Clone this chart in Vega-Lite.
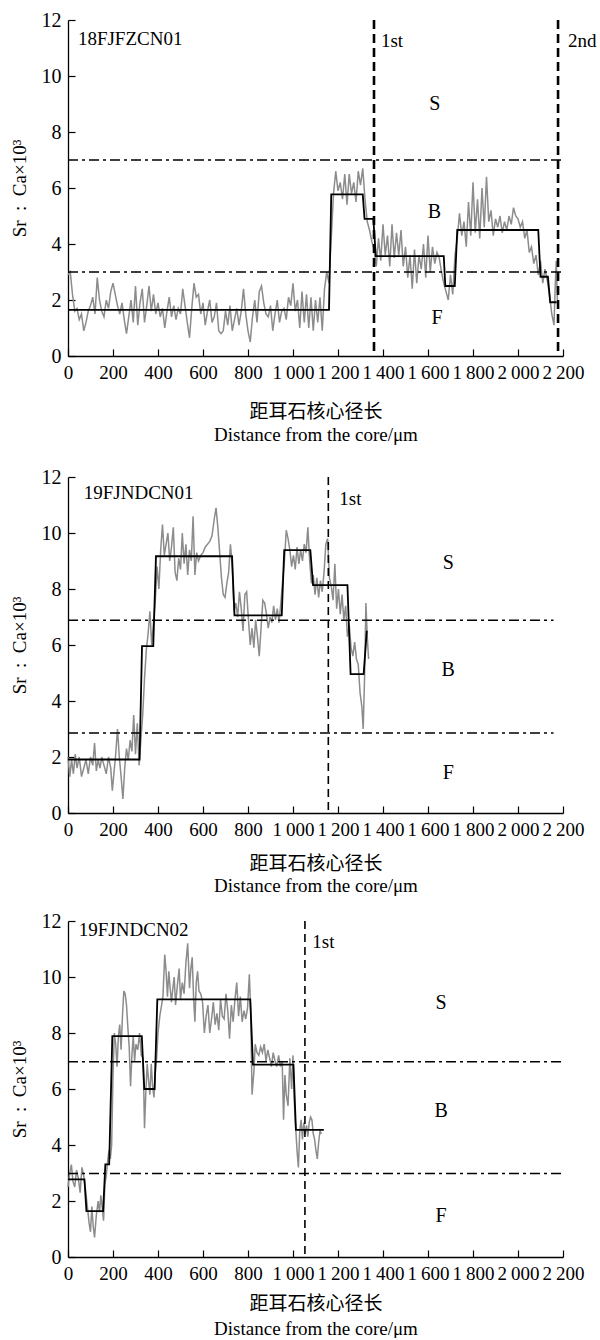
{
  "$schema": "https://vega.github.io/schema/vega-lite/v6.json",
  "background": "white",
  "padding": {"left": 10, "top": 10, "right": 5, "bottom": 0},
  "config": {
    "view": {"stroke": null},
    "font": "Liberation Serif",
    "axis": {
      "grid": false, "domainColor": "black", "domainWidth": 1.3, "tickColor": "black", "tickWidth": 1.2,
      "labelColor": "black", "labelFont": "Liberation Serif", "labelFontSize": 20,
      "titleFont": "Liberation Serif, Noto Sans CJK SC", "titleFontSize": 19, "titleFontWeight": "normal", "titleColor": "black",
      "labelOverlap": false, "labelFlush": false, "tickSize": -7, "labelPadding": 14
    },
    "axisX": {"labelFontSize": 19}
  },
  "datasets": {
    "p1_gray": [
      {"d":0,"v":2.9},{"d":10,"v":3.0},{"d":20,"v":2.2},{"d":30,"v":1.6},{"d":40,"v":1.7},{"d":50,"v":1.3},{"d":60,"v":1.5},{"d":70,"v":0.9},{"d":80,"v":1.2},{"d":90,"v":1.6},
      {"d":100,"v":1.8},{"d":110,"v":2.1},{"d":120,"v":1.5},{"d":130,"v":2.8},{"d":140,"v":2.0},{"d":150,"v":1.6},{"d":160,"v":1.4},{"d":170,"v":2.0},{"d":180,"v":1.7},{"d":190,"v":2.3},
      {"d":200,"v":2.6},{"d":210,"v":2.2},{"d":220,"v":1.8},{"d":230,"v":1.5},{"d":240,"v":1.9},{"d":250,"v":1.3},{"d":260,"v":0.8},{"d":270,"v":1.4},{"d":280,"v":2.0},{"d":290,"v":1.2},
      {"d":300,"v":2.5},{"d":310,"v":1.1},{"d":320,"v":1.9},{"d":330,"v":2.4},{"d":340,"v":1.2},{"d":350,"v":1.8},{"d":360,"v":2.5},{"d":370,"v":1.6},{"d":380,"v":2.2},{"d":390,"v":1.5},
      {"d":400,"v":1.9},{"d":410,"v":1.4},{"d":420,"v":1.7},{"d":430,"v":1.0},{"d":440,"v":1.6},{"d":450,"v":2.1},{"d":460,"v":1.4},{"d":470,"v":1.8},{"d":480,"v":1.3},{"d":490,"v":1.7},
      {"d":500,"v":1.5},{"d":510,"v":2.4},{"d":520,"v":1.8},{"d":530,"v":1.2},{"d":540,"v":0.65},{"d":550,"v":1.7},{"d":560,"v":2.6},{"d":570,"v":2.1},{"d":580,"v":2.2},{"d":590,"v":1.5},
      {"d":600,"v":1.9},{"d":610,"v":1.1},{"d":620,"v":1.6},{"d":630,"v":2.0},{"d":640,"v":1.2},{"d":650,"v":1.4},{"d":660,"v":1.9},{"d":670,"v":0.9},{"d":680,"v":0.8},{"d":690,"v":0.9},
      {"d":700,"v":1.6},{"d":710,"v":1.1},{"d":720,"v":1.8},{"d":730,"v":0.9},{"d":740,"v":1.3},{"d":750,"v":1.7},{"d":760,"v":1.1},{"d":770,"v":1.6},{"d":780,"v":2.4},{"d":790,"v":1.5},
      {"d":800,"v":0.9},{"d":810,"v":0.5},{"d":820,"v":1.4},{"d":830,"v":2.0},{"d":840,"v":1.2},{"d":850,"v":2.3},{"d":860,"v":2.5},{"d":870,"v":1.9},{"d":880,"v":1.5},{"d":890,"v":1.4},
      {"d":900,"v":1.8},{"d":910,"v":0.9},{"d":920,"v":1.5},{"d":930,"v":2.0},{"d":940,"v":1.2},{"d":950,"v":1.6},{"d":960,"v":1.7},{"d":970,"v":1.3},{"d":980,"v":2.1},{"d":990,"v":1.8},
      {"d":1000,"v":2.6},{"d":1010,"v":1.6},{"d":1020,"v":2.0},{"d":1030,"v":1.0},{"d":1040,"v":2.3},{"d":1050,"v":1.2},{"d":1060,"v":2.2},{"d":1070,"v":1.0},{"d":1080,"v":2.1},{"d":1090,"v":0.9},
      {"d":1100,"v":2.0},{"d":1110,"v":1.2},{"d":1120,"v":2.1},{"d":1130,"v":0.9},{"d":1140,"v":2.4},{"d":1150,"v":3.0},{"d":1160,"v":2.6},{"d":1170,"v":4.2},{"d":1180,"v":5.8},{"d":1190,"v":6.6},
      {"d":1200,"v":5.9},{"d":1210,"v":6.2},{"d":1220,"v":5.6},{"d":1230,"v":6.5},{"d":1240,"v":5.4},{"d":1250,"v":6.5},{"d":1260,"v":5.8},{"d":1270,"v":6.2},{"d":1280,"v":5.5},{"d":1290,"v":6.6},
      {"d":1300,"v":6.1},{"d":1310,"v":6.7},{"d":1320,"v":5.6},{"d":1330,"v":4.8},{"d":1340,"v":4.5},{"d":1350,"v":4.1},{"d":1360,"v":3.8},{"d":1370,"v":3.2},{"d":1380,"v":4.2},{"d":1390,"v":3.4},
      {"d":1400,"v":4.7},{"d":1410,"v":3.6},{"d":1420,"v":4.3},{"d":1430,"v":3.2},{"d":1440,"v":4.7},{"d":1450,"v":3.5},{"d":1460,"v":4.4},{"d":1470,"v":3.6},{"d":1480,"v":4.5},{"d":1490,"v":3.2},
      {"d":1500,"v":3.9},{"d":1510,"v":2.8},{"d":1520,"v":3.6},{"d":1530,"v":2.4},{"d":1540,"v":3.8},{"d":1550,"v":2.6},{"d":1560,"v":3.6},{"d":1570,"v":3.1},{"d":1580,"v":4.0},{"d":1590,"v":2.8},
      {"d":1600,"v":4.3},{"d":1610,"v":3.0},{"d":1620,"v":3.9},{"d":1630,"v":3.3},{"d":1640,"v":3.7},{"d":1650,"v":3.5},{"d":1660,"v":3.0},{"d":1670,"v":2.6},{"d":1680,"v":2.3},{"d":1690,"v":2.0},
      {"d":1700,"v":2.9},{"d":1710,"v":2.2},{"d":1720,"v":3.6},{"d":1730,"v":4.2},{"d":1740,"v":5.1},{"d":1750,"v":4.3},{"d":1760,"v":4.8},{"d":1770,"v":3.9},{"d":1780,"v":5.5},{"d":1790,"v":4.3},
      {"d":1800,"v":6.2},{"d":1810,"v":4.4},{"d":1820,"v":5.6},{"d":1830,"v":4.2},{"d":1840,"v":6.0},{"d":1850,"v":4.6},{"d":1860,"v":6.4},{"d":1870,"v":4.8},{"d":1880,"v":5.2},{"d":1890,"v":4.3},
      {"d":1900,"v":4.9},{"d":1910,"v":4.6},{"d":1920,"v":5.0},{"d":1930,"v":4.4},{"d":1940,"v":4.8},{"d":1950,"v":4.5},{"d":1960,"v":5.0},{"d":1970,"v":4.7},{"d":1980,"v":5.3},{"d":1990,"v":5.0},
      {"d":2000,"v":4.9},{"d":2010,"v":4.6},{"d":2020,"v":4.8},{"d":2030,"v":4.2},{"d":2040,"v":4.5},{"d":2050,"v":3.7},{"d":2060,"v":3.9},{"d":2070,"v":3.3},{"d":2080,"v":3.6},{"d":2090,"v":2.9},
      {"d":2100,"v":3.4},{"d":2110,"v":2.6},{"d":2120,"v":3.1},{"d":2130,"v":2.7},{"d":2140,"v":2.2},{"d":2150,"v":1.5},{"d":2160,"v":1.1},{"d":2165,"v":2.4},{"d":2170,"v":3.4},{"d":2175,"v":2.0}
    ],
    "p1_step": [
      {"d":0,"v":1.65},{"d":1160,"v":1.65},{"d":1170,"v":5.77},{"d":1310,"v":5.77},{"d":1318,"v":4.9},{"d":1357,"v":4.9},{"d":1368,"v":3.57},{"d":1670,"v":3.57},
      {"d":1677,"v":2.5},{"d":1719,"v":2.5},{"d":1730,"v":4.5},{"d":2090,"v":4.5},{"d":2100,"v":2.83},{"d":2133,"v":2.83},{"d":2143,"v":1.92},{"d":2172,"v":1.92}
    ],
    "p1_h": [{"d":0,"d2":2200,"v":7.0},{"d":0,"d2":2200,"v":3.0}],
    "p1_v": [{"d":1360},{"d":2178}],
    "p1_lab": [{"d":44,"v":11.32,"t":"18FJFZCN01"},{"d":1391,"v":11.25,"t":"1st"},{"d":2222,"v":11.25,"t":"2nd"}],
    "p1_zone": [{"d":1630,"v":9.0,"t":"S"},{"d":1628,"v":5.14,"t":"B"},{"d":1640,"v":1.36,"t":"F"}],
    "p2_gray": [
      {"d":0,"v":2.0},{"d":8,"v":1.3},{"d":16,"v":1.9},{"d":24,"v":1.4},{"d":32,"v":2.1},{"d":40,"v":1.6},{"d":50,"v":2.0},{"d":60,"v":1.3},{"d":70,"v":1.6},{"d":80,"v":1.9},
      {"d":90,"v":1.4},{"d":100,"v":2.0},{"d":110,"v":1.7},{"d":118,"v":2.5},{"d":126,"v":1.5},{"d":134,"v":1.9},{"d":142,"v":1.6},{"d":150,"v":2.0},{"d":160,"v":1.7},{"d":170,"v":1.4},
      {"d":180,"v":2.0},{"d":190,"v":1.6},{"d":197,"v":0.8},{"d":205,"v":1.5},{"d":212,"v":2.1},{"d":220,"v":3.0},{"d":228,"v":2.0},{"d":236,"v":1.3},{"d":244,"v":0.5},{"d":252,"v":1.6},
      {"d":260,"v":2.3},{"d":268,"v":1.9},{"d":276,"v":2.6},{"d":284,"v":2.2},{"d":292,"v":3.5},{"d":300,"v":2.1},{"d":308,"v":3.2},{"d":316,"v":1.7},{"d":324,"v":2.6},{"d":332,"v":3.5},
      {"d":340,"v":4.8},{"d":348,"v":5.8},{"d":356,"v":6.4},{"d":364,"v":7.2},{"d":372,"v":6.0},{"d":380,"v":6.8},{"d":388,"v":7.6},{"d":396,"v":8.8},{"d":404,"v":8.0},{"d":412,"v":9.4},
      {"d":420,"v":10.3},{"d":428,"v":9.2},{"d":436,"v":9.6},{"d":444,"v":10.0},{"d":452,"v":9.0},{"d":460,"v":9.5},{"d":468,"v":10.2},{"d":476,"v":8.6},{"d":484,"v":8.3},{"d":492,"v":9.1},
      {"d":500,"v":8.7},{"d":508,"v":10.0},{"d":516,"v":8.9},{"d":524,"v":9.6},{"d":532,"v":8.5},{"d":540,"v":9.4},{"d":548,"v":9.0},{"d":556,"v":10.6},{"d":564,"v":8.5},{"d":572,"v":9.3},
      {"d":580,"v":9.0},{"d":590,"v":9.2},{"d":600,"v":9.3},{"d":610,"v":9.5},{"d":620,"v":9.6},{"d":630,"v":9.7},{"d":640,"v":9.9},{"d":650,"v":10.5},{"d":658,"v":10.9},{"d":666,"v":10.2},
      {"d":674,"v":9.3},{"d":682,"v":8.4},{"d":690,"v":7.8},{"d":698,"v":7.7},{"d":706,"v":8.2},{"d":714,"v":8.6},{"d":722,"v":9.6},{"d":730,"v":8.8},{"d":738,"v":7.2},{"d":746,"v":7.5},
      {"d":754,"v":7.0},{"d":762,"v":7.9},{"d":770,"v":7.3},{"d":778,"v":6.5},{"d":786,"v":7.8},{"d":794,"v":7.9},{"d":802,"v":6.9},{"d":810,"v":6.0},{"d":818,"v":6.6},{"d":826,"v":5.9},
      {"d":834,"v":6.9},{"d":842,"v":6.3},{"d":850,"v":5.6},{"d":858,"v":6.6},{"d":866,"v":7.6},{"d":874,"v":7.5},{"d":882,"v":7.1},{"d":890,"v":6.6},{"d":898,"v":7.0},{"d":906,"v":6.8},
      {"d":914,"v":7.4},{"d":922,"v":6.9},{"d":930,"v":7.3},{"d":938,"v":6.8},{"d":946,"v":7.5},{"d":954,"v":8.3},{"d":962,"v":9.0},{"d":970,"v":10.1},{"d":978,"v":9.8},{"d":986,"v":9.4},
      {"d":994,"v":8.8},{"d":1002,"v":9.2},{"d":1010,"v":8.7},{"d":1018,"v":9.5},{"d":1026,"v":8.9},{"d":1034,"v":9.4},{"d":1042,"v":9.0},{"d":1050,"v":9.6},{"d":1058,"v":9.3},{"d":1066,"v":10.2},
      {"d":1074,"v":9.0},{"d":1082,"v":8.2},{"d":1090,"v":8.5},{"d":1098,"v":7.8},{"d":1106,"v":8.4},{"d":1114,"v":7.7},{"d":1122,"v":8.3},{"d":1130,"v":7.9},{"d":1138,"v":8.6},{"d":1146,"v":9.6},
      {"d":1154,"v":9.8},{"d":1162,"v":8.4},{"d":1170,"v":8.1},{"d":1178,"v":7.6},{"d":1186,"v":8.9},{"d":1194,"v":7.3},{"d":1202,"v":8.0},{"d":1210,"v":7.1},{"d":1218,"v":7.8},{"d":1226,"v":6.9},
      {"d":1234,"v":7.4},{"d":1242,"v":6.3},{"d":1250,"v":6.7},{"d":1258,"v":5.9},{"d":1266,"v":5.6},{"d":1274,"v":6.1},{"d":1282,"v":5.5},{"d":1290,"v":5.3},{"d":1298,"v":4.3},{"d":1306,"v":3.8},
      {"d":1312,"v":3.0},{"d":1318,"v":4.8},{"d":1324,"v":7.5},{"d":1330,"v":6.3},{"d":1336,"v":5.5}
    ],
    "p2_step": [
      {"d":0,"v":1.91},{"d":318,"v":1.91},{"d":329,"v":5.96},{"d":379,"v":5.96},{"d":391,"v":9.17},{"d":729,"v":9.17},{"d":740,"v":7.06},{"d":950,"v":7.06},
      {"d":961,"v":9.39},{"d":1077,"v":9.39},{"d":1089,"v":8.14},{"d":1242,"v":8.14},{"d":1256,"v":4.96},{"d":1314,"v":4.96},{"d":1328,"v":6.51}
    ],
    "p2_h": [{"d":0,"d2":2158,"v":6.88},{"d":0,"d2":2158,"v":2.86}],
    "p2_v": [{"d":1157}],
    "p2_lab": [{"d":70,"v":11.42,"t":"19FJNDCN01"},{"d":1206,"v":11.2,"t":"1st"}],
    "p2_zone": [{"d":1690,"v":8.92,"t":"S"},{"d":1690,"v":5.1,"t":"B"},{"d":1690,"v":1.42,"t":"F"}],
    "p3_gray": [
      {"d":0,"v":2.5},{"d":8,"v":3.0},{"d":15,"v":3.3},{"d":22,"v":2.7},{"d":30,"v":2.5},{"d":38,"v":3.1},{"d":46,"v":2.8},{"d":54,"v":2.3},{"d":62,"v":3.2},{"d":70,"v":2.9},
      {"d":78,"v":2.4},{"d":86,"v":1.8},{"d":94,"v":1.2},{"d":100,"v":0.9},{"d":106,"v":1.8},{"d":112,"v":1.1},{"d":118,"v":0.7},{"d":126,"v":1.5},{"d":134,"v":2.0},{"d":140,"v":1.6},
      {"d":146,"v":2.2},{"d":152,"v":1.8},{"d":158,"v":1.3},{"d":164,"v":2.6},{"d":170,"v":2.9},{"d":176,"v":3.4},{"d":182,"v":3.8},{"d":188,"v":3.5},{"d":194,"v":4.0},{"d":200,"v":6.5},
      {"d":206,"v":8.0},{"d":212,"v":7.6},{"d":218,"v":6.8},{"d":224,"v":7.9},{"d":230,"v":8.3},{"d":236,"v":7.4},{"d":242,"v":8.6},{"d":248,"v":9.5},{"d":254,"v":9.4},{"d":260,"v":9.0},
      {"d":266,"v":8.2},{"d":272,"v":7.5},{"d":278,"v":6.1},{"d":284,"v":7.2},{"d":290,"v":7.9},{"d":296,"v":7.0},{"d":302,"v":7.6},{"d":310,"v":7.4},{"d":318,"v":8.0},{"d":326,"v":7.2},
      {"d":334,"v":7.1},{"d":340,"v":4.6},{"d":346,"v":5.9},{"d":352,"v":6.9},{"d":358,"v":6.3},{"d":364,"v":5.8},{"d":370,"v":6.9},{"d":376,"v":6.1},{"d":382,"v":5.7},{"d":388,"v":6.6},
      {"d":394,"v":7.1},{"d":400,"v":8.0},{"d":408,"v":8.6},{"d":416,"v":9.0},{"d":422,"v":9.3},{"d":430,"v":10.8},{"d":436,"v":10.2},{"d":442,"v":9.3},{"d":448,"v":10.2},{"d":454,"v":9.6},
      {"d":460,"v":9.1},{"d":466,"v":9.6},{"d":472,"v":10.0},{"d":478,"v":9.0},{"d":486,"v":9.7},{"d":494,"v":10.3},{"d":500,"v":9.2},{"d":508,"v":9.8},{"d":516,"v":9.4},{"d":524,"v":10.5},
      {"d":532,"v":11.2},{"d":540,"v":9.6},{"d":546,"v":10.3},{"d":552,"v":10.7},{"d":558,"v":9.3},{"d":564,"v":8.4},{"d":570,"v":9.8},{"d":576,"v":10.2},{"d":582,"v":9.5},{"d":590,"v":9.4},
      {"d":598,"v":9.1},{"d":606,"v":8.0},{"d":614,"v":8.6},{"d":622,"v":9.0},{"d":630,"v":8.0},{"d":638,"v":8.5},{"d":646,"v":9.1},{"d":654,"v":8.3},{"d":662,"v":8.7},{"d":670,"v":8.1},
      {"d":678,"v":9.2},{"d":686,"v":8.6},{"d":694,"v":8.5},{"d":702,"v":9.4},{"d":710,"v":8.8},{"d":718,"v":7.8},{"d":726,"v":9.0},{"d":734,"v":8.4},{"d":742,"v":9.2},{"d":750,"v":9.8},
      {"d":758,"v":8.6},{"d":766,"v":9.3},{"d":774,"v":8.4},{"d":782,"v":8.8},{"d":790,"v":8.5},{"d":798,"v":8.9},{"d":806,"v":10.1},{"d":812,"v":8.8},{"d":818,"v":5.8},{"d":826,"v":6.6},
      {"d":832,"v":7.6},{"d":840,"v":7.3},{"d":848,"v":7.2},{"d":856,"v":7.5},{"d":864,"v":7.3},{"d":872,"v":7.6},{"d":880,"v":7.0},{"d":888,"v":7.4},{"d":896,"v":7.1},{"d":904,"v":6.8},
      {"d":912,"v":7.3},{"d":920,"v":7.0},{"d":928,"v":6.8},{"d":936,"v":7.2},{"d":944,"v":6.8},{"d":952,"v":7.0},{"d":958,"v":4.9},{"d":964,"v":6.5},{"d":970,"v":5.8},{"d":978,"v":5.4},
      {"d":986,"v":7.1},{"d":994,"v":6.0},{"d":1000,"v":7.2},{"d":1006,"v":5.5},{"d":1012,"v":4.6},{"d":1018,"v":3.8},{"d":1024,"v":3.2},{"d":1030,"v":4.5},{"d":1036,"v":4.9},{"d":1042,"v":4.2},
      {"d":1048,"v":4.8},{"d":1054,"v":4.4},{"d":1060,"v":4.7},{"d":1066,"v":4.3},{"d":1072,"v":4.8},{"d":1078,"v":5.0},{"d":1084,"v":4.9},{"d":1090,"v":4.4},{"d":1096,"v":4.2},{"d":1102,"v":3.8},
      {"d":1108,"v":3.5},{"d":1114,"v":4.1},{"d":1120,"v":4.5},{"d":1126,"v":4.4}
    ],
    "p3_step": [
      {"d":0,"v":2.77},{"d":73,"v":2.77},{"d":82,"v":1.64},{"d":156,"v":1.64},{"d":166,"v":3.31},{"d":183,"v":3.31},{"d":197,"v":7.89},{"d":328,"v":7.89},
      {"d":339,"v":6.0},{"d":385,"v":6.0},{"d":397,"v":9.2},{"d":810,"v":9.2},{"d":822,"v":6.87},{"d":1002,"v":6.87},{"d":1013,"v":4.54},{"d":1137,"v":4.54}
    ],
    "p3_h": [{"d":0,"d2":2200,"v":6.97},{"d":0,"d2":2200,"v":2.98}],
    "p3_v": [{"d":1053}],
    "p3_lab": [{"d":48,"v":11.67,"t":"19FJNDCN02"},{"d":1086,"v":11.24,"t":"1st"}],
    "p3_zone": [{"d":1658,"v":9.06,"t":"S"},{"d":1658,"v":5.2,"t":"B"},{"d":1658,"v":1.45,"t":"F"}]
  },
  "spacing": 23,
  "vconcat": [
    {
      "width": 495, "height": 336,
      "layer": [
        {"data": {"name": "p1_gray"}, "mark": {"type": "line", "color": "#8c8c8c", "strokeWidth": 1.5},
         "encoding": {
           "x": {"field": "d", "type": "quantitative", "scale": {"domain": [0, 2200], "nice": false, "zero": false},
                 "axis": {"values": [0,200,400,600,800,1000,1200,1400,1600,1800,2000,2200], "title": ["距耳石核心径长", "Distance from the core/μm"], "titleLineHeight": 23, "titlePadding": 20,
                          "labelExpr": "datum.value >= 1000 ? replace(format(datum.value, ','), ',', '\u2009') : format(datum.value, 'd')"}},
           "y": {"field": "v", "type": "quantitative", "scale": {"domain": [0, 12], "nice": false},
                 "axis": {"values": [0,2,4,6,8,10,12], "title": "Sr\u2002:\u2002Ca×10³", "titlePadding": 12}}}},
        {"data": {"name": "p1_step"}, "mark": {"type": "line", "color": "black", "strokeWidth": 1.8},
         "encoding": {"x": {"field": "d", "type": "quantitative"}, "y": {"field": "v", "type": "quantitative"}}},
        {"data": {"name": "p1_h"}, "mark": {"type": "rule", "color": "black", "strokeWidth": 1.5, "strokeDash": [10, 4, 3, 4]},
         "encoding": {"x": {"field": "d", "type": "quantitative"}, "x2": {"field": "d2"}, "y": {"field": "v", "type": "quantitative"}}},
        {"data": {"name": "p1_v"}, "mark": {"type": "rule", "color": "black", "strokeWidth": 2.6, "strokeDash": [9, 5]},
         "encoding": {"x": {"field": "d", "type": "quantitative"}}},
        {"data": {"name": "p1_lab"}, "mark": {"type": "text", "align": "left", "baseline": "middle", "font": "Liberation Serif", "fontSize": 19, "color": "black"},
         "encoding": {"x": {"field": "d", "type": "quantitative"}, "y": {"field": "v", "type": "quantitative"}, "text": {"field": "t"}}},
        {"data": {"name": "p1_zone"}, "mark": {"type": "text", "align": "center", "baseline": "middle", "font": "Liberation Serif", "fontSize": 20, "color": "black"},
         "encoding": {"x": {"field": "d", "type": "quantitative"}, "y": {"field": "v", "type": "quantitative"}, "text": {"field": "t"}}}
      ]
    },
    {
      "spacing": 16,
      "vconcat": [
        {
          "width": 495, "height": 336,
          "layer": [
            {"data": {"name": "p2_gray"}, "mark": {"type": "line", "color": "#8c8c8c", "strokeWidth": 1.5},
             "encoding": {
               "x": {"field": "d", "type": "quantitative", "scale": {"domain": [0, 2200], "nice": false, "zero": false},
                     "axis": {"values": [0,200,400,600,800,1000,1200,1400,1600,1800,2000,2200], "title": ["距耳石核心径长", "Distance from the core/μm"], "titleLineHeight": 22, "titlePadding": 15,
                              "labelExpr": "datum.value >= 1000 ? replace(format(datum.value, ','), ',', '\u2009') : format(datum.value, 'd')"}},
               "y": {"field": "v", "type": "quantitative", "scale": {"domain": [0, 12], "nice": false},
                     "axis": {"values": [0,2,4,6,8,10,12], "title": "Sr\u2002:\u2002Ca×10³", "titlePadding": 12}}}},
            {"data": {"name": "p2_step"}, "mark": {"type": "line", "color": "black", "strokeWidth": 1.8},
             "encoding": {"x": {"field": "d", "type": "quantitative"}, "y": {"field": "v", "type": "quantitative"}}},
            {"data": {"name": "p2_h"}, "mark": {"type": "rule", "color": "black", "strokeWidth": 1.5, "strokeDash": [10, 4, 3, 4]},
             "encoding": {"x": {"field": "d", "type": "quantitative"}, "x2": {"field": "d2"}, "y": {"field": "v", "type": "quantitative"}}},
            {"data": {"name": "p2_v"}, "mark": {"type": "rule", "color": "black", "strokeWidth": 1.6, "strokeDash": [8, 5]},
             "encoding": {"x": {"field": "d", "type": "quantitative"}}},
            {"data": {"name": "p2_lab"}, "mark": {"type": "text", "align": "left", "baseline": "middle", "font": "Liberation Serif", "fontSize": 19, "color": "black"},
             "encoding": {"x": {"field": "d", "type": "quantitative"}, "y": {"field": "v", "type": "quantitative"}, "text": {"field": "t"}}},
            {"data": {"name": "p2_zone"}, "mark": {"type": "text", "align": "center", "baseline": "middle", "font": "Liberation Serif", "fontSize": 20, "color": "black"},
             "encoding": {"x": {"field": "d", "type": "quantitative"}, "y": {"field": "v", "type": "quantitative"}, "text": {"field": "t"}}}
          ]
        },
        {
          "width": 495, "height": 336,
          "layer": [
            {"data": {"name": "p3_gray"}, "mark": {"type": "line", "color": "#8c8c8c", "strokeWidth": 1.5},
             "encoding": {
               "x": {"field": "d", "type": "quantitative", "scale": {"domain": [0, 2200], "nice": false, "zero": false},
                     "axis": {"values": [0,200,400,600,800,1000,1200,1400,1600,1800,2000,2200], "title": ["距耳石核心径长", "Distance from the core/μm"], "titleLineHeight": 25, "titlePadding": 11,
                              "labelExpr": "datum.value >= 1000 ? replace(format(datum.value, ','), ',', '\u2009') : format(datum.value, 'd')"}},
               "y": {"field": "v", "type": "quantitative", "scale": {"domain": [0, 12], "nice": false},
                     "axis": {"values": [0,2,4,6,8,10,12], "title": "Sr\u2002:\u2002Ca×10³", "titlePadding": 12}}}},
            {"data": {"name": "p3_step"}, "mark": {"type": "line", "color": "black", "strokeWidth": 1.8},
             "encoding": {"x": {"field": "d", "type": "quantitative"}, "y": {"field": "v", "type": "quantitative"}}},
            {"data": {"name": "p3_h"}, "mark": {"type": "rule", "color": "black", "strokeWidth": 1.5, "strokeDash": [10, 4, 3, 4]},
             "encoding": {"x": {"field": "d", "type": "quantitative"}, "x2": {"field": "d2"}, "y": {"field": "v", "type": "quantitative"}}},
            {"data": {"name": "p3_v"}, "mark": {"type": "rule", "color": "black", "strokeWidth": 1.6, "strokeDash": [8, 5]},
             "encoding": {"x": {"field": "d", "type": "quantitative"}}},
            {"data": {"name": "p3_lab"}, "mark": {"type": "text", "align": "left", "baseline": "middle", "font": "Liberation Serif", "fontSize": 19, "color": "black"},
             "encoding": {"x": {"field": "d", "type": "quantitative"}, "y": {"field": "v", "type": "quantitative"}, "text": {"field": "t"}}},
            {"data": {"name": "p3_zone"}, "mark": {"type": "text", "align": "center", "baseline": "middle", "font": "Liberation Serif", "fontSize": 20, "color": "black"},
             "encoding": {"x": {"field": "d", "type": "quantitative"}, "y": {"field": "v", "type": "quantitative"}, "text": {"field": "t"}}}
          ]
        }
      ]
    }
  ]
}
